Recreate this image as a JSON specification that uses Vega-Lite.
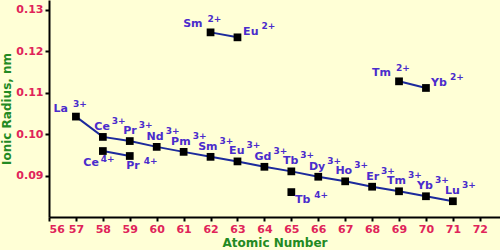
{
  "$schema": "https://vega.github.io/schema/vega-lite/v6.json",
  "width": 451,
  "height": 217,
  "autosize": "none",
  "padding": {"left": 49, "top": 0, "right": 0, "bottom": 33},
  "background": "#ffffd6",
  "config": {
    "view": {"stroke": null},
    "axis": {
      "grid": false,
      "domainColor": "#000000",
      "domainWidth": 2,
      "tickColor": "#000000",
      "tickWidth": 2,
      "tickSize": 4,
      "labelFont": "DejaVu Sans",
      "labelFontWeight": "bold",
      "labelFontSize": 11,
      "labelColor": "#e0245a",
      "titleFont": "DejaVu Sans",
      "titleFontWeight": "bold",
      "titleFontSize": 12,
      "titleColor": "#238a23"
    },
    "text": {"font": "DejaVu Sans", "fontWeight": "bold", "color": "#4a2ccc"}
  },
  "data": {
    "values": [
      {"z": 57, "el": "La", "q": "3+", "r": 0.1042, "g": "a"},
      {"z": 58, "el": "Ce", "q": "3+", "r": 0.0993, "g": "a"},
      {"z": 59, "el": "Pr", "q": "3+", "r": 0.0983, "g": "a"},
      {"z": 60, "el": "Nd", "q": "3+", "r": 0.0969, "g": "a"},
      {"z": 61, "el": "Pm", "q": "3+", "r": 0.0957, "g": "a"},
      {"z": 62, "el": "Sm", "q": "3+", "r": 0.0945, "g": "a"},
      {"z": 63, "el": "Eu", "q": "3+", "r": 0.0934, "g": "a"},
      {"z": 64, "el": "Gd", "q": "3+", "r": 0.0921, "g": "a"},
      {"z": 65, "el": "Tb", "q": "3+", "r": 0.0910, "g": "a"},
      {"z": 66, "el": "Dy", "q": "3+", "r": 0.0897, "g": "a"},
      {"z": 67, "el": "Ho", "q": "3+", "r": 0.0886, "g": "a"},
      {"z": 68, "el": "Er", "q": "3+", "r": 0.0873, "g": "a"},
      {"z": 69, "el": "Tm", "q": "3+", "r": 0.0862, "g": "a"},
      {"z": 70, "el": "Yb", "q": "3+", "r": 0.0850, "g": "a"},
      {"z": 71, "el": "Lu", "q": "3+", "r": 0.0838, "g": "a"},
      {"z": 58, "el": "Ce", "q": "4+", "r": 0.0959, "g": "b"},
      {"z": 59, "el": "Pr", "q": "4+", "r": 0.0947, "g": "b"},
      {"z": 65, "el": "Tb", "q": "4+", "r": 0.0860, "g": "c"},
      {"z": 62, "el": "Sm", "q": "2+", "r": 0.1245, "g": "d"},
      {"z": 63, "el": "Eu", "q": "2+", "r": 0.1233, "g": "d"},
      {"z": 69, "el": "Tm", "q": "2+", "r": 0.1127, "g": "e"},
      {"z": 70, "el": "Yb", "q": "2+", "r": 0.1111, "g": "e"}
    ]
  },
  "encoding": {
    "x": {
      "field": "z", "type": "quantitative",
      "scale": {"domain": [56, 72.75], "nice": false, "zero": false},
      "axis": {"values": [56,57,58,59,60,61,62,63,64,65,66,67,68,69,70,71,72], "format": "d", "title": "Atomic Number", "labelPadding": 2, "titlePadding": 3}
    },
    "y": {
      "field": "r", "type": "quantitative",
      "scale": {"domain": [0.08, 0.1323], "nice": false, "zero": false},
      "axis": {"values": [0.09, 0.10, 0.11, 0.12, 0.13], "format": ".2f", "title": "Ionic Radius, nm", "labelPadding": 2, "titlePadding": 2}
    }
  },
  "layer": [
    {"mark": {"type": "line", "color": "#1c2a9c", "strokeWidth": 2}, "encoding": {"detail": {"field": "g"}}},
    {"mark": {"type": "point", "shape": "square", "filled": true, "color": "#000000", "opacity": 1, "size": 60}},
    {"transform": [{"filter": "datum.q == '3+' && datum.el != 'La'"}], "mark": {"type": "text", "align": "right", "baseline": "middle", "dx": 7, "dy": -10, "fontSize": 11}, "encoding": {"text": {"field": "el"}}},
    {"transform": [{"filter": "datum.q == '3+' && datum.el != 'La'"}], "mark": {"type": "text", "align": "left", "baseline": "middle", "dx": 9, "dy": -16, "fontSize": 9}, "encoding": {"text": {"field": "q"}}},
    {"transform": [{"filter": "(datum.q == '3+' && datum.el == 'La') || (datum.q == '2+' && (datum.el == 'Sm' || datum.el == 'Tm'))"}], "mark": {"type": "text", "align": "right", "baseline": "middle", "dx": -8, "dy": -8, "fontSize": 11}, "encoding": {"text": {"field": "el"}}},
    {"transform": [{"filter": "(datum.q == '3+' && datum.el == 'La') || (datum.q == '2+' && (datum.el == 'Sm' || datum.el == 'Tm'))"}], "mark": {"type": "text", "align": "left", "baseline": "middle", "dx": -3, "dy": -13, "fontSize": 9}, "encoding": {"text": {"field": "q"}}},
    {"transform": [{"filter": "datum.q == '2+' && (datum.el == 'Eu' || datum.el == 'Yb')"}], "mark": {"type": "text", "align": "right", "baseline": "middle", "dx": 21, "dy": -5, "fontSize": 11}, "encoding": {"text": {"field": "el"}}},
    {"transform": [{"filter": "datum.q == '2+' && (datum.el == 'Eu' || datum.el == 'Yb')"}], "mark": {"type": "text", "align": "left", "baseline": "middle", "dx": 24, "dy": -11, "fontSize": 9}, "encoding": {"text": {"field": "q"}}},
    {"transform": [{"filter": "datum.q == '4+' && datum.el == 'Ce'"}], "mark": {"type": "text", "align": "right", "baseline": "middle", "dx": -4, "dy": 12, "fontSize": 11}, "encoding": {"text": {"field": "el"}}},
    {"transform": [{"filter": "datum.q == '4+' && datum.el == 'Ce'"}], "mark": {"type": "text", "align": "left", "baseline": "middle", "dx": -2, "dy": 8, "fontSize": 9}, "encoding": {"text": {"field": "q"}}},
    {"transform": [{"filter": "datum.q == '4+' && datum.el == 'Pr'"}], "mark": {"type": "text", "align": "right", "baseline": "middle", "dx": 10, "dy": 10, "fontSize": 11}, "encoding": {"text": {"field": "el"}}},
    {"transform": [{"filter": "datum.q == '4+' && datum.el == 'Pr'"}], "mark": {"type": "text", "align": "left", "baseline": "middle", "dx": 14, "dy": 5, "fontSize": 9}, "encoding": {"text": {"field": "q"}}},
    {"transform": [{"filter": "datum.q == '4+' && datum.el == 'Tb'"}], "mark": {"type": "text", "align": "right", "baseline": "middle", "dx": 19, "dy": 8, "fontSize": 11}, "encoding": {"text": {"field": "el"}}},
    {"transform": [{"filter": "datum.q == '4+' && datum.el == 'Tb'"}], "mark": {"type": "text", "align": "left", "baseline": "middle", "dx": 23, "dy": 3, "fontSize": 9}, "encoding": {"text": {"field": "q"}}}
  ]
}
